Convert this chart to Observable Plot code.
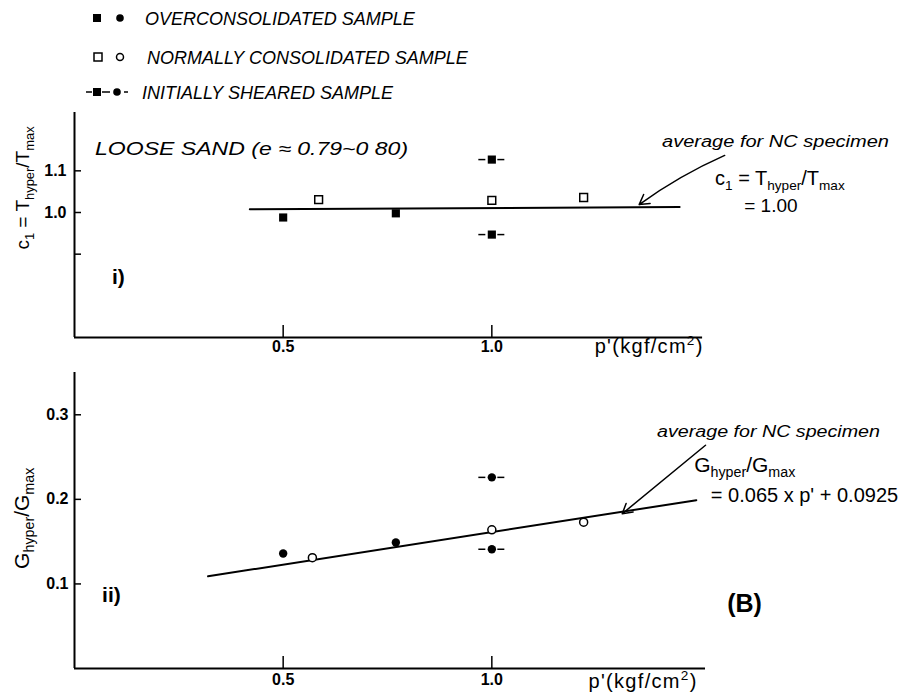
<!DOCTYPE html>
<html><head><meta charset="utf-8">
<script src="https://cdn.jsdelivr.net/npm/d3@7"></script>
<script src="https://cdn.jsdelivr.net/npm/@observablehq/plot@0.6"></script>
<style>
body{margin:0;background:#fff;}
#wrap{position:relative;width:912px;height:696px;font-family:"Liberation Sans",Arial,Helvetica,sans-serif;}
#wrap > svg{position:absolute;left:0;}
</style></head><body><div id="wrap"></div>
<script>
// ---------------- data ----------------
const legendLabels = ["OVERCONSOLIDATED SAMPLE", "NORMALLY CONSOLIDATED SAMPLE", "INITIALLY SHEARED SAMPLE"];
const pTicks = [0.5, 1.0];
const c1Ticks = [0.9, 1.0, 1.1];
const c1TickLabels = ["", "1.0", "1.1"];
const gTicks = [0.1, 0.2, 0.3];
const gTickLabels = ["0.1", "0.2", "0.3"];

// panel i) c1 = Thyper/Tmax
const ocP_c1 = [0.50, 0.77];
const ocC1 = [0.988, 0.998];
const ncP_c1 = [0.585, 1.0, 1.22];
const ncC1 = [1.031, 1.029, 1.036];
const isP_c1 = [1.0, 1.0];
const isC1 = [1.127, 0.947];
const c1AvgP = [0.42, 1.45];
const c1AvgVal = [1.008, 1.013];

// panel ii) Ghyper/Gmax
const ocP_g = [0.50, 0.77];
const ocG = [0.136, 0.149];
const ncP_g = [0.57, 1.0, 1.22];
const ncG = [0.131, 0.164, 0.173];
const isP_g = [1.0, 1.0];
const isG = [0.226, 0.141];
const gAvgP = [0.32, 1.49];
const gAvgVal = [0.109, 0.199];

// ---------------- helpers ----------------
const FONT = '"Liberation Sans", Arial, Helvetica, sans-serif';
const W = 912, ML = 74, MR = 212;
const xDom = [0, 1.5];
const pts = (xs, ys) => xs.map((x, i) => ({x, y: ys[i]}));
const wrap = document.getElementById("wrap");

function rich(svg, px, py, parts, attrs = {}) {
  const t = d3.select(svg).append("text").attr("x", px).attr("y", py).attr("fill", "black").attr("text-anchor", "start");
  for (const [k, v] of Object.entries(attrs)) t.attr(k, v);
  let shift = 0;
  for (const p of parts) {
    const s = typeof p === "string" ? {t: p} : p;
    const target = s.sub ? (s.off || 5) : s.sup ? -(s.off || 8) : 0;
    const span = t.append("tspan").text(s.t).attr("dy", target - shift);
    if (s.sub || s.sup) span.attr("font-size", s.size || "0.68em");
    shift = target;
  }
  return t;
}

// ---------------- legend ----------------
const leg = d3.select(wrap).append("svg").attr("width", W).attr("height", 105)
  .style("top", "0px").style("font-family", FONT);
const rowsY = [18, 57, 92];
leg.append("rect").attr("x", 93).attr("y", rowsY[0] - 4).attr("width", 8).attr("height", 8).attr("fill", "black");
leg.append("circle").attr("cx", 120).attr("cy", rowsY[0]).attr("r", 3.8).attr("fill", "black");
leg.append("rect").attr("x", 94).attr("y", rowsY[1] - 4).attr("width", 8).attr("height", 8).attr("fill", "white").attr("stroke", "black").attr("stroke-width", 1.5);
leg.append("circle").attr("cx", 120).attr("cy", rowsY[1]).attr("r", 3.5).attr("fill", "white").attr("stroke", "black").attr("stroke-width", 1.5);
[[86, 92], [102, 110], [124, 128]].forEach(([a, b]) =>
  leg.append("line").attr("x1", a).attr("x2", b).attr("y1", rowsY[2]).attr("y2", rowsY[2]).attr("stroke", "black").attr("stroke-width", 1.5));
leg.append("rect").attr("x", 93).attr("y", rowsY[2] - 4).attr("width", 8).attr("height", 8).attr("fill", "black");
leg.append("circle").attr("cx", 117).attr("cy", rowsY[2]).attr("r", 3.8).attr("fill", "black");
const legTx = [145, 147, 142];
legendLabels.forEach((s, i) => leg.append("text").attr("x", legTx[i]).attr("y", rowsY[i] + 6.5)
  .attr("font-size", 18).attr("font-style", "italic").text(s));

// ---------------- panel i) ----------------
const yTop = [0.7, 1.24];
const topH = 255, topMT = 7, topMB = 23;
const kyT = (yTop[1] - yTop[0]) / (topH - topMT - topMB);
const kx = (xDom[1] - xDom[0]) / (W - ML - MR);

function whiskers(data) {
  return [
    Plot.ruleY(data, {y: "y", x1: "x", x2: "x", insetLeft: -13, insetRight: 6, stroke: "black", strokeWidth: 1.5}),
    Plot.ruleY(data, {y: "y", x1: "x", x2: "x", insetLeft: 6, insetRight: -13, stroke: "black", strokeWidth: 1.5})
  ];
}

const topPlot = Plot.plot({
  width: W, height: topH, marginLeft: ML, marginRight: MR, marginTop: topMT, marginBottom: topMB,
  x: {domain: xDom}, y: {domain: yTop},
  style: {fontFamily: FONT, fontSize: "16px", color: "black", background: "transparent", overflow: "visible"},
  marks: [
    Plot.ruleX([0], {y1: yTop[0], y2: yTop[1], strokeWidth: 2}),
    Plot.ruleY([yTop[0]], {x1: 0, x2: 1.505, strokeWidth: 2}),
    Plot.ruleX(pTicks, {x: d => d, y1: yTop[0], y2: yTop[0] + 12 * kyT, strokeWidth: 1.5}),
    Plot.ruleY(c1Ticks, {y: d => d, x1: 0, x2: 7 * kx, strokeWidth: 1.5}),
    Plot.axisX({ticks: pTicks, tickSize: 0, tickPadding: 3, tickFormat: ".1f", label: null, fontWeight: "bold", fontSize: 16}),
    Plot.axisY({ticks: c1Ticks, tickSize: 0, tickPadding: 8, tickFormat: d => c1TickLabels[c1Ticks.indexOf(d)], label: null, fontWeight: "bold", fontSize: 16}),
    Plot.line(pts(c1AvgP, c1AvgVal), {x: "x", y: "y", strokeWidth: 2}),
    ...whiskers(pts(isP_c1, isC1)),
    Plot.dot(pts(isP_c1, isC1), {x: "x", y: "y", symbol: "square", r: 4.6, fill: "black"}),
    Plot.dot(pts(ocP_c1, ocC1), {x: "x", y: "y", symbol: "square", r: 4.6, fill: "black"}),
    Plot.dot(pts(ncP_c1, ncC1), {x: "x", y: "y", symbol: "square", r: 4.4, fill: "white", stroke: "black", strokeWidth: 1.5}),
    Plot.arrow([{x1: 1.558, y1: 1.137, x2: 1.353, y2: 1.019}], {x1: "x1", y1: "y1", x2: "x2", y2: "y2", bend: -6, headLength: 11, strokeWidth: 1.5})
  ]
});
topPlot.style.top = "105px";
wrap.appendChild(topPlot);
{
  const sx = topPlot.scale("x"), sy = topPlot.scale("y");
  const X = v => sx.apply(v), Y = v => sy.apply(v);
  rich(topPlot, X(0.0505), Y(1.137), ["LOOSE SAND (e \u2248 0.79~0 80)"], {"font-size": 18, "font-style": "italic", textLength: 313, lengthAdjust: "spacingAndGlyphs"});
  rich(topPlot, X(0.091), Y(0.827), ["i)"], {"font-size": 21, "font-weight": "bold"});
  rich(topPlot, X(1.409), Y(1.156), ["average for NC specimen"], {"font-size": 16, "font-style": "italic", textLength: 227, lengthAdjust: "spacingAndGlyphs"});
  rich(topPlot, X(1.536), Y(1.065), ["c", {t: "1", sub: true}, " = T", {t: "hyper", sub: true}, "/T", {t: "max", sub: true}], {"font-size": 20});
  rich(topPlot, X(1.606), Y(1.0), ["= 1.00"], {"font-size": 19});
  rich(topPlot, X(1.2476), Y(0.6616), ["p'(kgf/cm", {t: "2", sup: true}, ")"], {"font-size": 20, "letter-spacing": "1.3px"});
  rich(topPlot, 0, 0, ["c", {t: "1", sub: true}, " = T", {t: "hyper", sub: true}, "/T", {t: "max", sub: true}],
    {"font-size": 19, "text-anchor": "middle", transform: `translate(29,${Y(1.0576)}) rotate(-90)`});
}

// ---------------- panel ii) ----------------
const yBot = [0, 0.35];
const botH = 336, botMT = 12, botMB = 28;
const kyB = (yBot[1] - yBot[0]) / (botH - botMT - botMB);

const botPlot = Plot.plot({
  width: W, height: botH, marginLeft: ML, marginRight: MR, marginTop: botMT, marginBottom: botMB,
  x: {domain: xDom}, y: {domain: yBot},
  style: {fontFamily: FONT, fontSize: "16px", color: "black", background: "transparent", overflow: "visible"},
  marks: [
    Plot.ruleX([0], {y1: yBot[0], y2: yBot[1], strokeWidth: 2}),
    Plot.ruleY([yBot[0]], {x1: 0, x2: 1.512, strokeWidth: 2}),
    Plot.ruleX(pTicks, {x: d => d, y1: yBot[0], y2: yBot[0] + 12 * kyB, strokeWidth: 1.5}),
    Plot.ruleY(gTicks, {y: d => d, x1: 0, x2: 7 * kx, strokeWidth: 1.5}),
    Plot.axisX({ticks: pTicks, tickSize: 0, tickPadding: 5, tickFormat: ".1f", label: null, fontWeight: "bold", fontSize: 16}),
    Plot.axisY({ticks: gTicks, tickSize: 0, tickPadding: 6, tickFormat: d => gTickLabels[gTicks.indexOf(d)], label: null, fontWeight: "bold", fontSize: 16}),
    Plot.line(pts(gAvgP, gAvgVal), {x: "x", y: "y", strokeWidth: 2}),
    ...whiskers(pts(isP_g, isG)),
    Plot.dot(pts(isP_g, isG), {x: "x", y: "y", r: 4.2, fill: "black"}),
    Plot.dot(pts(ocP_g, ocG), {x: "x", y: "y", r: 4.2, fill: "black"}),
    Plot.dot(pts(ncP_g, ncG), {x: "x", y: "y", r: 4, fill: "white", stroke: "black", strokeWidth: 1.5}),
    Plot.arrow([{x1: 1.512, y1: 0.264, x2: 1.3125, y2: 0.183}], {x1: "x1", y1: "y1", x2: "x2", y2: "y2", headLength: 11, strokeWidth: 1.5})
  ]
});
botPlot.style.top = "360px";
wrap.appendChild(botPlot);
{
  const sx = botPlot.scale("x"), sy = botPlot.scale("y");
  const X = v => sx.apply(v), Y = v => sy.apply(v);
  rich(botPlot, X(0.0673), Y(0.078), ["ii)"], {"font-size": 21, "font-weight": "bold"});
  rich(botPlot, X(1.565), Y(0.0662), ["(B)"], {"font-size": 25, "font-weight": "bold"});
  rich(botPlot, X(1.397), Y(0.273), ["average for NC specimen"], {"font-size": 16, "font-style": "italic", textLength: 223, lengthAdjust: "spacingAndGlyphs"});
  rich(botPlot, X(1.486), Y(0.2318), ["G", {t: "hyper", sub: true}, "/G", {t: "max", sub: true}], {"font-size": 21});
  rich(botPlot, X(1.526), Y(0.1963), ["= 0.065 x p' + 0.0925"], {"font-size": 20});
  rich(botPlot, X(1.233), Y(-0.0236), ["p'(kgf/cm", {t: "2", sup: true}, ")"], {"font-size": 20, "letter-spacing": "1.3px"});
  rich(botPlot, 0, 0, ["G", {t: "hyper", sub: true}, "/G", {t: "max", sub: true}],
    {"font-size": 21, "text-anchor": "middle", transform: `translate(29,${Y(0.177)}) rotate(-90)`});
}
</script></body></html>
